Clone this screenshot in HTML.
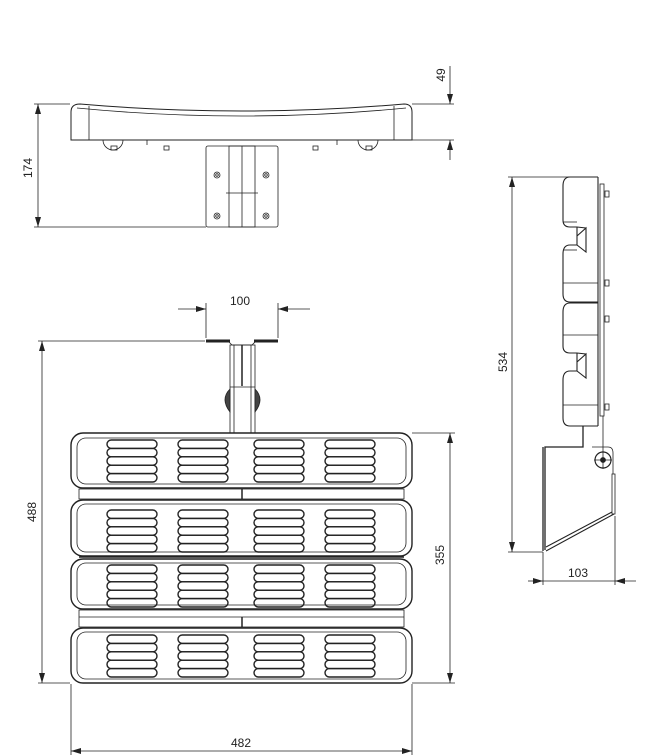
<!DOCTYPE html>
<html><head><meta charset="utf-8"><style>
html,body{margin:0;padding:0;background:#fff;width:658px;height:755px;overflow:hidden}
svg{display:block}
text{font-family:"Liberation Sans",sans-serif;font-size:12px;fill:#222}
</style></head><body>
<svg width="658" height="755" viewBox="0 0 658 755" xmlns="http://www.w3.org/2000/svg">
<defs>
<marker id="a" viewBox="0 0 10 6" refX="10" refY="3" markerWidth="10" markerHeight="6" orient="auto-start-reverse" markerUnits="userSpaceOnUse"><path d="M0,0 L10,3 L0,6z" fill="#222"/></marker>
<g id="s" fill="none" stroke="#222" stroke-width="1.4">
<rect x="0" y="0" width="50" height="8.4" rx="4.2"/>
<rect x="0" y="8.4" width="50" height="8.4" rx="4.2"/>
<rect x="0" y="16.8" width="50" height="8.4" rx="4.2"/>
<rect x="0" y="25.2" width="50" height="8.4" rx="4.2"/>
<rect x="0" y="33.6" width="50" height="8.4" rx="4.2"/>
</g>
<g id="r"><use href="#s" x="107"/><use href="#s" x="178"/><use href="#s" x="254"/><use href="#s" x="325"/></g>
</defs>
<g stroke="#222" fill="none" stroke-width="0.8">
<!-- TOP VIEW -->
<path d="M71,140 L71,112 Q71,104 80,104 Q242,118 404,104 Q412,104 412,112 L412,140 Z" stroke-width="1"/>
<path d="M77,108 Q242,124 406,108"/>
<line x1="89" y1="106" x2="89" y2="140"/><line x1="394" y1="106" x2="394" y2="140"/>
<line x1="71" y1="140" x2="412" y2="140"/>
<path d="M103,140 a10,10 0 0 0 20,0"/><path d="M358,140 a10,10 0 0 0 20,0"/>
<rect x="111" y="146" width="6" height="4"/><rect x="164" y="146" width="5" height="4"/><rect x="313" y="146" width="5" height="4"/><rect x="366" y="146" width="6" height="4"/>
<line x1="147" y1="140" x2="147" y2="145"/><line x1="337" y1="140" x2="337" y2="145"/>
<rect x="206" y="146" width="72" height="81" rx="2"/>
<rect x="229" y="146" width="26" height="81"/>
<line x1="242" y1="146" x2="242" y2="227"/><line x1="226" y1="193" x2="258" y2="193"/>
<circle cx="217" cy="175" r="3"/><circle cx="217" cy="175" r="1.3"/>
<circle cx="266" cy="175" r="3"/><circle cx="266" cy="175" r="1.3"/>
<circle cx="217" cy="216" r="3"/><circle cx="217" cy="216" r="1.3"/>
<circle cx="266" cy="216" r="3"/><circle cx="266" cy="216" r="1.3"/>
<line x1="34" y1="104" x2="70" y2="104"/><line x1="34" y1="227" x2="206" y2="227"/>
<line x1="38" y1="104" x2="38" y2="227" marker-start="url(#a)" marker-end="url(#a)"/>
<line x1="412" y1="104" x2="454" y2="104"/><line x1="412" y1="140" x2="454" y2="140"/>
<line x1="450" y1="66" x2="450" y2="104" marker-end="url(#a)"/>
<line x1="450" y1="160" x2="450" y2="140" marker-end="url(#a)"/>
<!-- FRONT VIEW mount -->
<line x1="206" y1="341" x2="230" y2="341" stroke-width="3"/><line x1="254" y1="341" x2="278" y2="341" stroke-width="3"/>
<path d="M228,341 L232,345 L252,345 L256,341"/>
<rect x="230" y="345" width="25" height="88"/><line x1="242" y1="345" x2="242" y2="386" stroke-width="1.5"/>
<line x1="234" y1="345" x2="234" y2="433"/><line x1="251" y1="345" x2="251" y2="433"/>
<line x1="230" y1="387" x2="255" y2="387"/>
<path d="M230,389 Q220,399 230,412 Z" fill="#444"/><path d="M255,389 Q265,399 255,412 Z" fill="#444"/>
<line x1="206" y1="303" x2="206" y2="338"/><line x1="278" y1="303" x2="278" y2="338"/>
<line x1="178" y1="309" x2="206" y2="309" marker-end="url(#a)"/><line x1="310" y1="309" x2="278" y2="309" marker-end="url(#a)"/>
<line x1="38" y1="341" x2="205" y2="341"/>
<g stroke-width="1.4">
<rect x="71" y="433" width="341" height="55" rx="12"/>
<rect x="71" y="500" width="341" height="56" rx="12"/>
<rect x="71" y="559" width="341" height="50" rx="12"/>
<rect x="71" y="628" width="341" height="55" rx="12"/>
</g>
<rect x="77" y="438" width="329" height="46" rx="9"/>
<rect x="77" y="504" width="329" height="48" rx="9"/>
<rect x="77" y="563" width="329" height="42" rx="9"/>
<rect x="77" y="632" width="329" height="47" rx="9"/>
<rect x="79" y="489" width="325" height="10"/><line x1="242" y1="489" x2="242" y2="499" stroke-width="1.5"/>
<rect x="79" y="610" width="325" height="17"/><line x1="79" y1="617" x2="404" y2="617"/><line x1="242" y1="617" x2="242" y2="627" stroke-width="1.5"/>
<line x1="79" y1="557" x2="404" y2="557" stroke-width="1.5"/>
<line x1="42" y1="341" x2="42" y2="683" marker-start="url(#a)" marker-end="url(#a)"/>
<line x1="38" y1="683" x2="70" y2="683"/>
<line x1="412" y1="433" x2="455" y2="433"/><line x1="412" y1="683" x2="455" y2="683"/>
<line x1="450" y1="433" x2="450" y2="683" marker-start="url(#a)" marker-end="url(#a)"/>
<line x1="71" y1="684" x2="71" y2="755"/><line x1="412" y1="684" x2="412" y2="755"/>
<line x1="71" y1="751" x2="412" y2="751" marker-start="url(#a)" marker-end="url(#a)"/>
<!-- SIDE VIEW -->
<line x1="508" y1="177" x2="598" y2="177"/><line x1="508" y1="552" x2="543" y2="552"/>
<line x1="512" y1="177" x2="512" y2="552" marker-start="url(#a)" marker-end="url(#a)"/>
<g stroke-width="1.1">
<path d="M598,177 L570,177 Q563,177 563,186 L563,220 Q563,227 570,227 L577,227"/>
<path d="M577,245 L570,245 Q563,245 563,254 L563,294 Q563,302 570,302 L598,302"/>
<path d="M598,303 L570,303 Q563,303 563,312 L563,346 Q563,353 570,353 L577,353"/>
<path d="M577,371 L570,371 Q563,371 563,380 L563,418 Q563,426 570,426 L598,426"/>
<path d="M577,227 L577,245 M577,236 L586,228 L586,252 L577,245 M577,227 L586,228"/>
<path d="M577,353 L577,371 M577,362 L586,354 L586,378 L577,371 M577,353 L586,354"/>
</g>
<line x1="563" y1="222" x2="577" y2="222"/><line x1="563" y1="250" x2="577" y2="250"/>
<line x1="563" y1="283" x2="598" y2="283"/><line x1="563" y1="335" x2="598" y2="335"/><line x1="563" y1="405" x2="598" y2="405"/>
<line x1="598" y1="177" x2="598" y2="426" stroke-width="1.1"/>
<rect x="600" y="184" width="4" height="232"/>
<rect x="605" y="191" width="4" height="6"/><rect x="605" y="280" width="4" height="6"/><rect x="605" y="316" width="4" height="6"/><rect x="605" y="404" width="4" height="6"/>
<path d="M583,426 L583,447 L545,447 L545,550" stroke-width="1.3"/><line x1="543" y1="447" x2="543" y2="551" stroke-width="1.3"/>
<path d="M546,551 L614,514 M546,547 L612,512" stroke-width="1"/>
<rect x="612" y="474" width="3" height="40"/>
<path d="M592,447 L608,447 Q613,447 613,453 L613,474"/>
<line x1="603" y1="416" x2="603" y2="452"/>
<circle cx="603" cy="460" r="8" stroke-width="1.2"/><circle cx="603" cy="460" r="2.5" fill="#222"/>
<line x1="594" y1="460" x2="612" y2="460"/><line x1="603" y1="451" x2="603" y2="469"/>
<line x1="543" y1="552" x2="543" y2="585"/><line x1="615" y1="516" x2="615" y2="585"/>
<line x1="528" y1="581" x2="543" y2="581" marker-end="url(#a)"/><line x1="636" y1="581" x2="615" y2="581" marker-end="url(#a)"/>
<line x1="543" y1="581" x2="615" y2="581"/>
</g>
<use href="#r" y="440"/><use href="#r" y="510"/><use href="#r" y="565"/><use href="#r" y="635"/>
<text x="240" y="305" text-anchor="middle">100</text>
<text x="241" y="747" text-anchor="middle">482</text>
<text x="578" y="577" text-anchor="middle">103</text>
<text transform="translate(32,168) rotate(-90)" text-anchor="middle">174</text>
<text transform="translate(445,75) rotate(-90)" text-anchor="middle">49</text>
<text transform="translate(36,512) rotate(-90)" text-anchor="middle">488</text>
<text transform="translate(444,555) rotate(-90)" text-anchor="middle">355</text>
<text transform="translate(507,362) rotate(-90)" text-anchor="middle">534</text>
</svg>
</body></html>
